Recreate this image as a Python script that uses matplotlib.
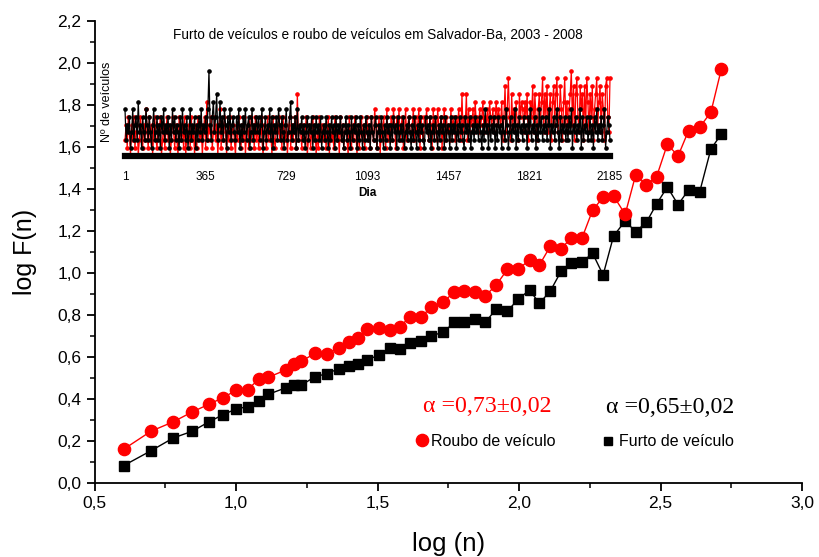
import numpy as np
import matplotlib
matplotlib.use("Agg")
import matplotlib.pyplot as plt
from matplotlib.ticker import MultipleLocator, FuncFormatter

plt.rcParams['font.family'] = ['Liberation Sans', 'DejaVu Sans']

# ---- main DFA data (log n, log F(n)) ----
log_n = [0.602, 0.699, 0.778, 0.845, 0.903, 0.954, 1.000, 1.041, 1.079, 1.114,
         1.176, 1.204, 1.230, 1.279, 1.322, 1.362, 1.398, 1.431, 1.462, 1.505,
         1.544, 1.580, 1.613, 1.653, 1.690, 1.732, 1.771, 1.806, 1.845, 1.881,
         1.919, 1.959, 1.996, 2.037, 2.072, 2.111, 2.149, 2.185, 2.223, 2.260,
         2.297, 2.334, 2.375, 2.412, 2.450, 2.486, 2.524, 2.562, 2.599, 2.638,
         2.678, 2.715]
roubo_F = [0.162, 0.248, 0.293, 0.340, 0.376, 0.408, 0.443, 0.446, 0.495, 0.505,
           0.540, 0.567, 0.581, 0.619, 0.617, 0.644, 0.671, 0.692, 0.733, 0.740,
           0.730, 0.744, 0.794, 0.792, 0.838, 0.861, 0.913, 0.914, 0.911, 0.893,
           0.944, 1.019, 1.019, 1.063, 1.040, 1.130, 1.117, 1.170, 1.170, 1.301,
           1.362, 1.368, 1.281, 1.468, 1.422, 1.460, 1.614, 1.559, 1.679, 1.695,
           1.767, 1.973]
furto_F = [0.084, 0.155, 0.216, 0.248, 0.292, 0.327, 0.354, 0.365, 0.393, 0.424,
           0.455, 0.470, 0.467, 0.508, 0.522, 0.546, 0.560, 0.568, 0.587, 0.611,
           0.643, 0.639, 0.667, 0.679, 0.702, 0.720, 0.766, 0.767, 0.781, 0.767,
           0.830, 0.820, 0.876, 0.920, 0.857, 0.917, 1.011, 1.048, 1.055, 1.095,
           0.992, 1.178, 1.249, 1.198, 1.243, 1.330, 1.411, 1.327, 1.397, 1.386,
           1.592, 1.663]

roubo_label = "Roubo de veículo"
furto_label = "Furto de veículo"
alpha_roubo = "α =0,73±0,02"
alpha_furto = "α =0,65±0,02"

# ---- inset data: daily counts (about every 5th day, estimated) ----
inset_ticks = [1, 365, 729, 1093, 1457, 1821, 2185]
furto_daily = [
    6,2,4,3,5,1,3,6,2,4,5,2,7,3,4,1,5,3,2,6,
    4,2,5,3,1,4,6,2,3,5,2,4,1,5,3,6,2,4,3,5,
    1,4,2,6,3,5,2,4,3,1,5,2,6,3,4,2,5,1,3,6,
    2,4,3,5,1,4,2,5,3,6,2,4,3,5,2,6,11,4,2,5,
    7,3,5,8,2,4,7,3,5,2,6,4,1,5,3,6,2,4,5,3,
    2,5,3,6,1,4,2,5,3,6,2,4,5,1,3,6,2,4,3,5,
    3,5,2,4,6,1,3,5,2,4,3,6,2,5,1,4,3,5,2,6,
    4,2,5,3,1,4,6,2,3,5,7,2,4,3,5,1,6,2,4,3,
    5,2,4,1,3,5,2,4,3,5,1,4,2,5,3,4,2,5,1,3,
    4,2,5,3,1,4,2,5,3,4,1,5,2,4,3,5,2,4,1,3,
    5,2,4,3,1,5,2,4,3,5,1,4,2,5,3,1,4,2,5,3,
    2,4,1,5,3,2,4,5,1,3,4,2,5,3,1,4,2,5,3,4,
    1,4,2,5,3,4,1,5,2,3,4,2,5,1,3,4,2,5,3,1,
    4,2,5,3,1,4,2,5,3,4,2,1,5,3,4,2,5,1,3,4,
    2,5,3,1,4,2,5,3,4,1,5,2,4,3,1,5,2,4,3,5,
    1,4,2,5,3,4,2,1,5,3,4,2,5,1,3,4,2,5,3,4,
    2,5,3,1,4,2,6,3,4,1,5,2,4,3,5,1,4,2,5,3,
    4,1,5,3,2,6,4,1,3,5,2,4,3,6,1,4,2,5,3,4,
    2,5,3,4,1,5,3,6,2,4,3,5,1,4,2,6,3,5,2,4,
    3,5,2,4,6,1,4,3,5,2,4,6,3,1,5,2,4,3,5,2,
    4,2,5,3,6,1,4,3,5,2,4,3,6,1,5,2,4,3,5,2,
    3,5,2,4,1,5,3,6,2,4,3,5,2,4,6,1,3,5,4,2]
roubo_daily = [
    2,4,1,5,3,0,4,2,5,1,3,4,0,2,5,3,1,4,2,6,
    3,1,5,2,4,0,3,5,2,1,4,3,5,0,2,4,1,3,5,2,
    4,0,2,5,3,1,4,2,0,5,3,2,4,1,5,0,3,2,4,1,
    5,2,3,0,4,1,5,3,2,4,0,3,5,1,7,2,4,3,5,1,
    3,5,2,4,0,3,6,1,4,2,5,3,0,4,2,5,1,3,4,2,
    0,4,2,5,3,1,4,2,5,0,3,4,1,5,2,3,4,1,5,2,
    4,1,3,5,2,0,4,3,1,5,2,4,3,0,5,2,1,4,3,5,
    2,4,1,5,3,2,4,0,3,5,1,4,2,3,5,1,8,2,4,3,
    1,4,2,3,5,0,2,4,1,3,5,2,4,0,3,1,5,2,4,3,
    2,4,1,3,5,0,4,2,3,1,5,4,2,3,0,5,2,4,1,3,
    4,2,0,5,3,1,4,2,5,3,0,4,1,3,5,2,4,1,3,5,
    2,4,1,5,3,2,6,4,1,3,5,0,4,2,5,3,1,6,2,4,
    3,5,2,6,4,1,5,3,6,2,4,5,1,3,6,2,4,5,3,2,
    4,6,2,5,3,4,6,1,5,3,2,5,4,6,3,2,5,4,1,6,
    3,5,2,6,4,3,5,1,4,6,2,5,3,4,2,6,3,5,4,2,
    5,3,6,4,2,8,3,5,4,8,2,6,3,5,4,6,3,7,4,5,
    3,6,4,5,7,3,5,4,6,3,7,5,4,6,3,5,7,4,6,5,
    4,7,2,5,9,3,6,10,5,2,8,4,6,3,7,4,2,8,5,7,
    6,3,7,5,8,2,4,7,5,9,3,8,5,2,6,8,4,7,10,3,
    8,5,9,3,6,8,2,7,9,4,8,10,3,5,9,6,2,7,10,4,
    7,3,6,8,11,4,9,2,8,10,5,3,9,6,8,2,9,4,10,7,
    3,8,5,9,2,6,8,10,4,7,9,3,8,6,2,9,10,5,3,10]
days = np.linspace(1, 2185, len(furto_daily))

W, H = 820, 557
fig = plt.figure(figsize=(W / 100, H / 100), dpi=100)

def fx(px):
    return px / W

def fy(py):
    return 1 - py / H

ax = fig.add_axes([fx(94.7), fy(483.3), fx(802) - fx(94.7), fy(21.3) - fy(483.3)])
ax.plot(log_n, furto_F, color='black', lw=1.0, marker='s', ms=7.0,
        mec='black', mfc='black', label=furto_label, zorder=3)
ax.plot(log_n, roubo_F, color='red', lw=1.0, marker='o', ms=8.8,
        mec='red', mfc='red', label=roubo_label, zorder=4)

ax.set_xlim(0.5, 3.0)
ax.set_ylim(0.0, 2.2)
ax.xaxis.set_major_locator(MultipleLocator(0.5))
ax.xaxis.set_minor_locator(MultipleLocator(0.25))
ax.yaxis.set_major_locator(MultipleLocator(0.2))
ax.yaxis.set_minor_locator(MultipleLocator(0.1))
comma = FuncFormatter(lambda v, p: f"{v:.1f}".replace('.', ','))
ax.xaxis.set_major_formatter(comma)
ax.yaxis.set_major_formatter(comma)
for s in ['top', 'right']:
    ax.spines[s].set_visible(False)
for s in ['left', 'bottom']:
    ax.spines[s].set_linewidth(1.3)
ax.tick_params(which='major', direction='out', length=6, width=1.3, labelsize=12.5)
ax.tick_params(which='minor', direction='out', length=3.5, width=1.1)
ax.set_xlabel("log (n)", fontsize=18.5, labelpad=15)
ax.set_ylabel("log F(n)", fontsize=18, labelpad=15)

ax.text(0.555, 0.166, alpha_roubo, transform=ax.transAxes, color='red',
        family='Liberation Serif', fontsize=17.2, ha='center', va='center')
ax.text(0.814, 0.164, alpha_furto, transform=ax.transAxes, color='black',
        family='Liberation Serif', fontsize=17.2, ha='center', va='center')

h_f, h_r = ax.get_lines()
leg1 = ax.legend([h_r], [roubo_label], loc='center left', frameon=False,
                 bbox_to_anchor=(fx(414.5), fy(441)), bbox_transform=fig.transFigure,
                 handlelength=0.9, handletextpad=0.15, borderpad=0, borderaxespad=0,
                 fontsize=11.5, markerscale=1.0)
for ln in leg1.get_lines():
    ln.set_linestyle('none')
ax.add_artist(leg1)
leg2 = ax.legend([h_f], [furto_label], loc='center left', frameon=False,
                 bbox_to_anchor=(fx(601), fy(442)), bbox_transform=fig.transFigure,
                 handlelength=0.9, handletextpad=0.2, borderpad=0, borderaxespad=0,
                 fontsize=11.5, markerscale=0.8)
for ln in leg2.get_lines():
    ln.set_linestyle('none')

# ---- inset ----
ins = fig.add_axes([fx(125), fy(155.5), fx(610) - fx(125), fy(60) - fy(155.5)])
ins.plot(days, roubo_daily, color='red', lw=0.9, marker='o', ms=2.3, clip_on=False, zorder=2)
ins.plot(days, furto_daily, color='black', lw=0.9, marker='o', ms=2.3, clip_on=False, zorder=3)
ins.set_xlim(1, 2185)
ins.set_ylim(0, 12.4)
ins.set_xticks(inset_ticks)
ins.set_xticklabels([str(t) for t in inset_ticks])
ins.set_yticks([])
for s in ['top', 'right', 'left']:
    ins.spines[s].set_visible(False)
ins.spines['bottom'].set_linewidth(4.5)
ins.spines['bottom'].set_zorder(4)
ins.tick_params(axis='x', length=0, pad=11, labelsize=8.5)
ins.set_xlabel("Dia", fontsize=8.5, fontweight='bold', labelpad=3)
ins.set_ylabel("Nº de veículos", fontsize=9, labelpad=6)
ins.yaxis.set_label_coords(-0.024, 0.56)
ins.patch.set_alpha(0)
fig.text(fx(378), fy(35), "Furto de veículos e roubo de veículos em Salvador-Ba, 2003 - 2008",
         fontsize=9.8, ha='center', va='center')

fig.savefig("out.png", dpi=100)
